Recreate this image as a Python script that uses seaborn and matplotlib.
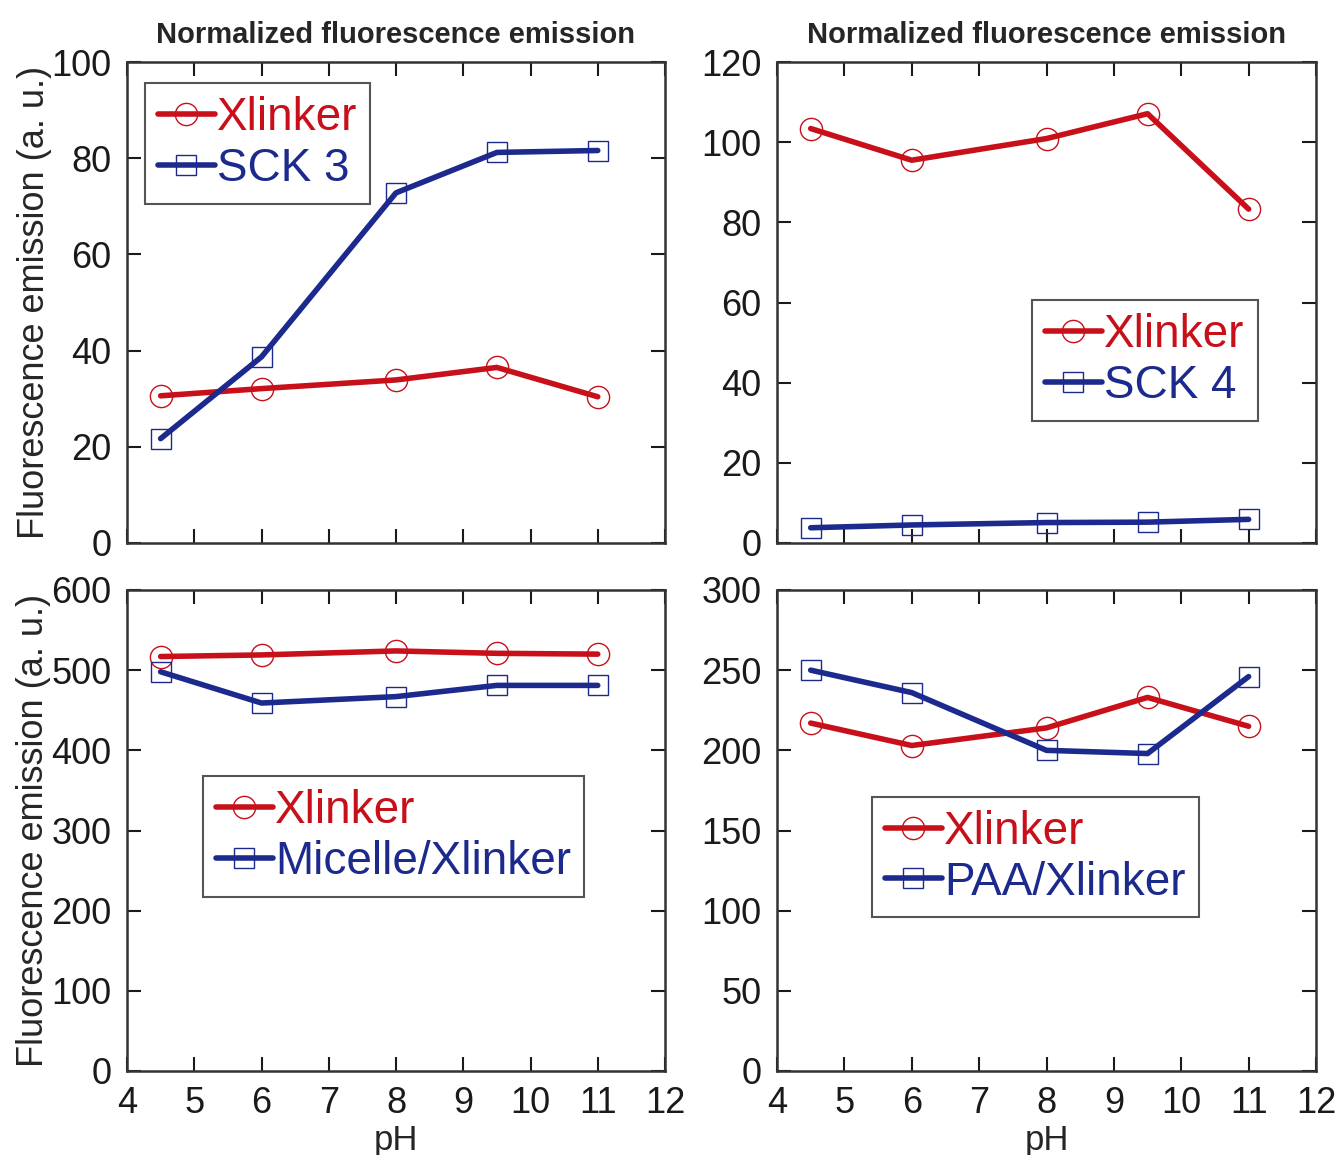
import matplotlib

matplotlib.use("Agg")
import matplotlib.pyplot as plt  # noqa: E402
import seaborn as sns  # noqa: E402

# pH values shared by all four panels
ph = [4.5, 6, 8, 9.5, 11]

# panel a: Xlinker vs SCK 3
xlinker_a = [30.6, 32.1, 33.9, 36.5, 30.4]
sck3 = [21.7, 38.7, 72.8, 81.2, 81.6]

# panel b: Xlinker vs SCK 4
xlinker_b = [103.4, 95.5, 100.9, 107.1, 83.3]
sck4 = [3.8, 4.5, 5.1, 5.2, 5.9]

# panel c: Xlinker vs Micelle/Xlinker
xlinker_c = [517, 519, 524, 521, 520]
micelle = [498, 459, 467, 481, 481]

# panel d: Xlinker vs PAA/Xlinker
xlinker_d = [217, 203, 214, 233, 215]
paa = [250, 236, 200, 198, 246]

RED = "#c8101a"
BLUE = "#1c2a8e"

sns.set_style("ticks")
plt.rcParams["font.family"] = ["Liberation Sans", "DejaVu Sans"]

fig = plt.figure(figsize=(13.4, 11.55), dpi=100)

W, H = 1340, 1155


def make_axes(left, top, right, bottom):
    return fig.add_axes([left / W, 1 - bottom / H, (right - left) / W, (bottom - top) / H])


panels = [
    dict(box=(127, 62, 665, 543), red=xlinker_a, blue=sck3, blue_name="SCK 3",
         ylim=(0, 100), yticks=[0, 20, 40, 60, 80, 100], leg=(0.033, 0.956),
         title=True, ylabel=True, xlabel=False),
    dict(box=(777, 62, 1316, 543), red=xlinker_b, blue=sck4, blue_name="SCK 4",
         ylim=(0, 120), yticks=[0, 20, 40, 60, 80, 100, 120], leg=(0.473, 0.505),
         title=True, ylabel=False, xlabel=False),
    dict(box=(127, 590, 665, 1071), red=xlinker_c, blue=micelle, blue_name="Micelle/Xlinker",
         ylim=(0, 600), yticks=[0, 100, 200, 300, 400, 500, 600], leg=(0.141, 0.613),
         title=False, ylabel=True, xlabel=True),
    dict(box=(777, 590, 1316, 1071), red=xlinker_d, blue=paa, blue_name="PAA/Xlinker",
         ylim=(0, 300), yticks=[0, 50, 100, 150, 200, 250, 300], leg=(0.176, 0.570),
         title=False, ylabel=False, xlabel=True),
]

for p in panels:
    ax = make_axes(*p["box"])
    sns.lineplot(x=ph, y=p["red"], ax=ax, color=RED, linewidth=4, marker="o",
                 markersize=16, markerfacecolor="none", markeredgecolor=RED,
                 markeredgewidth=1, label="Xlinker")
    sns.lineplot(x=ph, y=p["blue"], ax=ax, color=BLUE, linewidth=4, marker="s",
                 markersize=15, markerfacecolor="none", markeredgecolor=BLUE,
                 markeredgewidth=1, label=p["blue_name"])
    ax.set_xlim(4, 12)
    ax.set_ylim(*p["ylim"])
    ax.set_xticks(range(4, 13))
    ax.set_yticks(p["yticks"])
    ax.tick_params(direction="in", top=True, right=True, length=10, width=1.5,
                   labelsize=26, pad=11, colors="#1a1a1a")
    if not p["xlabel"]:
        ax.tick_params(axis="x", labelbottom=False)
    for s in ax.spines.values():
        s.set_linewidth(1.8)
        s.set_color("#333333")
    if p["title"]:
        ax.set_title("Normalized fluorescence emission", fontsize=21,
                     fontweight="bold", pad=14)
    if p["ylabel"]:
        ax.set_ylabel("Fluorescence emission (a. u.)", fontsize=26, labelpad=0)
    else:
        ax.set_ylabel("")
    if p["xlabel"]:
        ax.set_xlabel("pH", fontsize=25, labelpad=2)
    else:
        ax.set_xlabel("")
    leg = ax.legend(loc="upper left", bbox_to_anchor=p["leg"], borderaxespad=0,
                    fontsize=33, handlelength=1.25, handletextpad=0.05,
                    borderpad=0.28, labelspacing=0.15, fancybox=False,
                    framealpha=1, edgecolor="#555555")
    leg.get_frame().set_linewidth(1.5)
    for txt, col in zip(leg.get_texts(), [RED, BLUE]):
        txt.set_color(col)

fig.savefig("out.png", dpi=100)
